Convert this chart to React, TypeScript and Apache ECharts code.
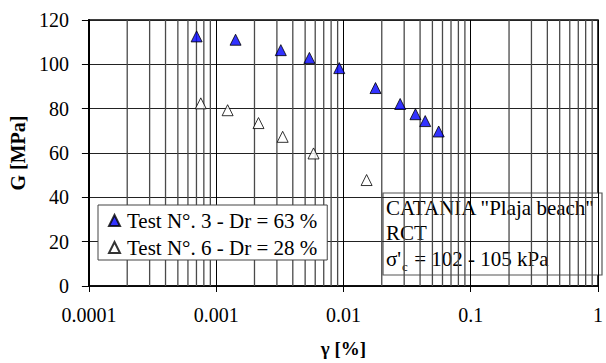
import React, { useEffect, useRef } from "react";
import * as echarts from "echarts";

const test3Name = "Test N°. 3 - Dr = 63 %";
const test6Name = "Test N°. 6 - Dr = 28 %";

const test3Strain = [0.000702, 0.00142, 0.00322, 0.0054, 0.00927, 0.01786, 0.0279, 0.0368, 0.0439, 0.056];
const test3G = [112.6, 111.1, 106.4, 102.9, 98.3, 89.3, 82.1, 77.5, 74.4, 69.7];

const test6Strain = [0.000757, 0.00123, 0.00215, 0.00333, 0.00582, 0.0152];
const test6G = [82.4, 79.3, 73.5, 67.3, 59.8, 47.8];

const minorGridX = [
  0.0002, 0.0003, 0.0004, 0.0005, 0.0006, 0.0007, 0.0008, 0.0009,
  0.002, 0.003, 0.004, 0.005, 0.006, 0.007, 0.008, 0.009,
  0.02, 0.03, 0.04, 0.05, 0.06, 0.07, 0.08, 0.09,
  0.2, 0.3, 0.4, 0.5, 0.6, 0.7, 0.8, 0.9,
];

const noteLines = ['CATANIA "Plaja beach"', "RCT"];

const FONT = '"Times New Roman", Times, "Liberation Serif", "DejaVu Serif", serif';

export default function App() {
  const ref = useRef<HTMLDivElement>(null);
  useEffect(() => {
    if (!ref.current) return;
    const chart = echarts.init(ref.current, undefined, { renderer: "svg" });
    const pts3 = test3Strain.map((x, i) => [x, test3G[i]]);
    const pts6 = test6Strain.map((x, i) => [x, test6G[i]]);
    chart.setOption({
      animation: false,
      backgroundColor: "#fff",
      textStyle: { fontFamily: FONT },
      grid: { left: 77, right: 1, top: 20, bottom: 72, show: true, borderColor: "#000", borderWidth: 1.5, backgroundColor: "transparent" },
      xAxis: {
        type: "log",
        logBase: 10,
        min: 0.0001,
        max: 1,
        name: "γ [%]",
        nameLocation: "middle",
        nameGap: 53,
        nameTextStyle: { fontFamily: FONT, fontWeight: "bold", fontSize: 19, color: "#000" },
        axisLine: { show: true, lineStyle: { color: "#000", width: 1.5 } },
        axisTick: { show: true, length: 6, lineStyle: { color: "#000" } },
        axisLabel: {
          fontFamily: FONT, fontSize: 20, color: "#000", margin: 19,
          formatter: (v: number) => String(Number(v.toPrecision(1))),
        },
        splitLine: { show: true, lineStyle: { color: "#000", width: 1 } },
      },
      yAxis: {
        type: "value",
        min: 0,
        max: 120,
        interval: 20,
        name: "G [MPa]",
        nameLocation: "middle",
        nameRotate: 90,
        nameGap: 57,
        nameTextStyle: { fontFamily: FONT, fontWeight: "bold", fontSize: 20, color: "#000" },
        axisLine: { show: true, lineStyle: { color: "#000", width: 2 } },
        axisTick: { show: true, length: 7, lineStyle: { color: "#000" } },
        axisLabel: { fontFamily: FONT, fontSize: 20, color: "#000", margin: 20 },
        splitLine: { show: true, lineStyle: { color: "#222", width: 1 } },
      },
      legend: {
        data: [test3Name, test6Name],
        orient: "vertical",
        left: 98,
        top: 205,
        selectedMode: false,
        backgroundColor: "#fff",
        borderColor: "#444",
        borderWidth: 1,
        padding: [5, 10, 2, 10],
        itemGap: 6,
        itemWidth: 11,
        itemHeight: 11,
        textStyle: { fontFamily: FONT, fontSize: 21, color: "#000", lineHeight: 21, padding: [0, 0, 0, 2] },
        z: 10,
      },
      series: [
        {
          type: "custom",
          name: "minorGrid",
          data: minorGridX,
          silent: true,
          z: 1,
          renderItem: (params: any, api: any) => {
            const v = api.value(0);
            const top = api.coord([v, 120]);
            const bottom = api.coord([v, 0]);
            return {
              type: "line",
              shape: { x1: top[0], y1: top[1], x2: bottom[0], y2: bottom[1] },
              style: { stroke: "#4a4a4a", lineWidth: 1.3 },
            };
          },
        },
        {
          type: "scatter",
          name: test3Name,
          data: pts3,
          symbol: "triangle",
          symbolSize: 11,
          itemStyle: { color: "#0000ff", borderColor: "#000", borderWidth: 1 },
          z: 5,
        },
        {
          type: "scatter",
          name: test6Name,
          data: pts6,
          symbol: "triangle",
          symbolSize: 11,
          itemStyle: { color: "#fff", borderColor: "#000", borderWidth: 1 },
          z: 5,
        },
      ],
      graphic: [
        {
          type: "group",
          z: 100,
          children: [
            { type: "rect", shape: { x: 383, y: 193, width: 219, height: 82 }, style: { fill: "#fff", stroke: "#555", lineWidth: 1.2 } },
            { type: "text", style: { x: 386, y: 208, text: noteLines[0], fontFamily: FONT, fontSize: 21, fill: "#000", textVerticalAlign: "middle" } },
            { type: "text", style: { x: 386, y: 233, text: noteLines[1], fontFamily: FONT, fontSize: 21, fill: "#000", textVerticalAlign: "middle" } },
            { type: "text", style: { x: 386, y: 259, text: "σ'", fontFamily: FONT, fontSize: 21, fill: "#000", textVerticalAlign: "middle" } },
            { type: "text", style: { x: 402, y: 266, text: "c", fontFamily: FONT, fontSize: 13, fill: "#000", textVerticalAlign: "middle" } },
            { type: "text", style: { x: 409, y: 259, text: " = 102 - 105 kPa", fontFamily: FONT, fontSize: 21, fill: "#000", textVerticalAlign: "middle" } },
          ],
        },
      ],
    });
    return () => chart.dispose();
  }, []);
  return <div ref={ref} style={{ width: 606, height: 363, position: "absolute", left: 0, top: 0 }} />;
}
